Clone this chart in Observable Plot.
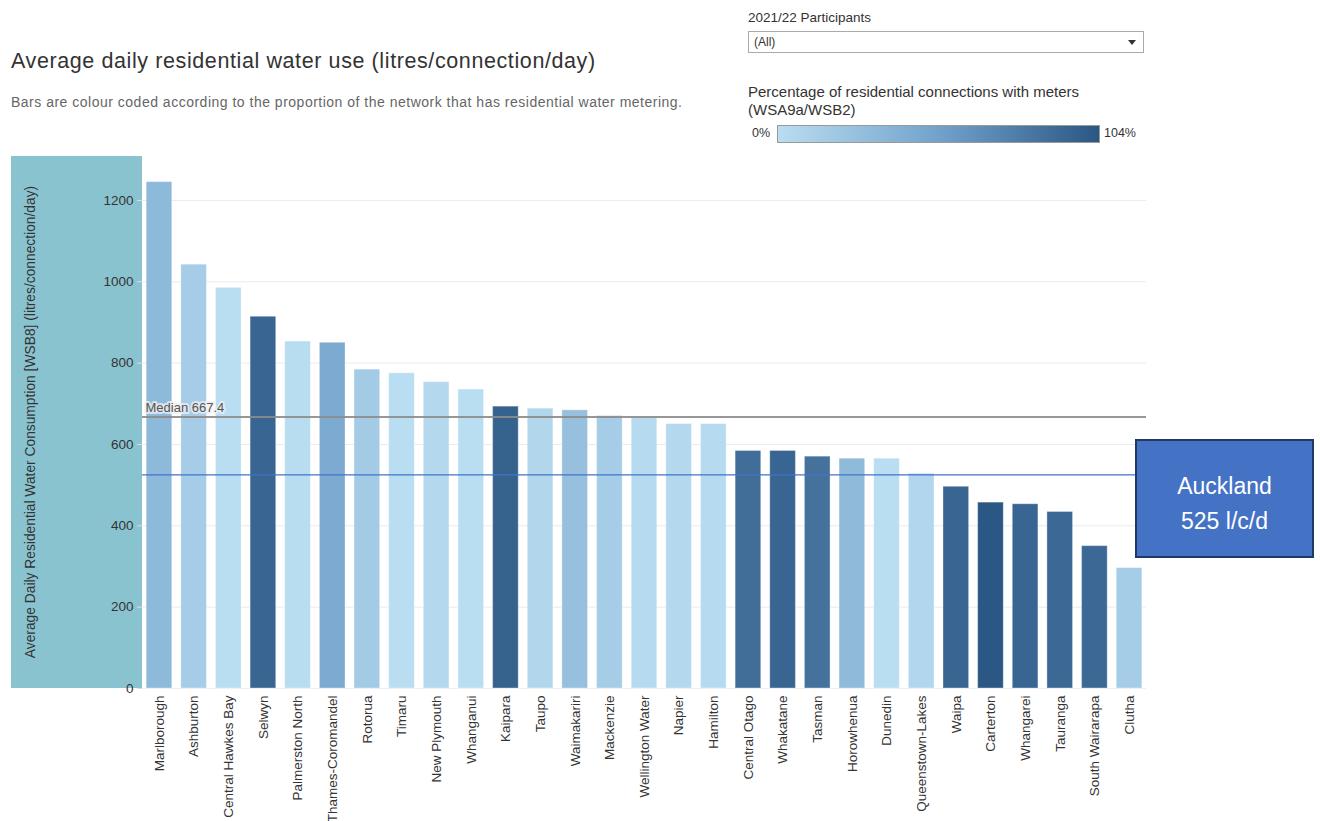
<!DOCTYPE html>
<html>
<head>
<meta charset="utf-8">
<script src="https://cdn.jsdelivr.net/npm/d3@7"></script>
<script src="https://cdn.jsdelivr.net/npm/@observablehq/plot@0.6"></script>
<style>
  html, body { margin: 0; padding: 0; background: #fff; }
  body { width: 1320px; height: 821px; overflow: hidden; position: relative;
         font-family: "Liberation Sans", Arial, sans-serif; color: #333; }
  .abs { position: absolute; }
  #title { left: 11px; top: 49px; font-size: 21.5px; letter-spacing: 0.6px; color: #333; white-space: nowrap; }
  #subtitle { left: 11px; top: 94px; font-size: 14px; letter-spacing: 0.5px; color: #666; white-space: nowrap; }
  #filterLabel { left: 748px; top: 10px; font-size: 13.5px; color: #333; }
  #filterBox { left: 748px; top: 31px; width: 394px; height: 20px; border: 1px solid #aaa;
               font-size: 12px; line-height: 20px; box-sizing: content-box; }
  #filterBox span.v { position: absolute; left: 5px; top: 0; }
  #filterBox span.arrow { position: absolute; right: 7px; top: 8px; width: 0; height: 0;
               border-left: 4px solid transparent; border-right: 4px solid transparent; border-top: 5px solid #333; }
  #legendTitle { left: 748px; top: 83px; font-size: 15px; line-height: 18px; color: #333; }
  #ramp { left: 777px; top: 125px; width: 321px; height: 16px; border: 1px solid #999; }
  #ramp0 { left: 752px; top: 125px; font-size: 12.5px; line-height: 16px; }
  #ramp1 { left: 1104px; top: 125px; font-size: 12.5px; line-height: 16px; }
  #panel { left: 11px; top: 156px; width: 131px; height: 532px; background: #8ac3d0; }
  #ytitle { left: 30px; top: 422px; width: 0; height: 0; }
  #ytitle span { position: absolute; left: 0; top: 0; white-space: nowrap; font-size: 13.8px; color: #333;
                 transform: translate(-50%, -50%) rotate(-90deg); }
  #chart { left: 0; top: 150px; }
  #auckland { left: 1135px; top: 439px; width: 175px; height: 115px; background: #4472c4;
              border: 2px solid #1f3864; color: #fff; font-size: 23px; line-height: 35px;
              text-align: center; box-sizing: content-box; }
  #auckland div { position: relative; top: 28px; }
</style>
</head>
<body>
<div id="title" class="abs">Average daily residential water use (litres/connection/day)</div>
<div id="subtitle" class="abs">Bars are colour coded according to the proportion of the network that has residential water metering.</div>

<div id="filterLabel" class="abs">2021/22 Participants</div>
<div id="filterBox" class="abs"><span class="v">(All)</span><span class="arrow"></span></div>

<div id="legendTitle" class="abs">Percentage of residential connections with meters<br>(WSA9a/WSB2)</div>
<div id="ramp0" class="abs">0%</div>
<div id="ramp" class="abs"></div>
<div id="ramp1" class="abs">104%</div>

<div id="panel" class="abs"></div>
<div id="ytitle" class="abs"><span>Average Daily Residential Water Consumption [WSB8] (litres/connection/day)</span></div>
<div id="chart" class="abs"></div>
<div id="auckland" class="abs"><div>Auckland<br>525 l/c/d</div></div>

<script>
// Councils / water suppliers, ordered by consumption
const councils = [
  "Marlborough", "Ashburton", "Central Hawkes Bay", "Selwyn", "Palmerston North",
  "Thames-Coromandel", "Rotorua", "Timaru", "New Plymouth", "Whanganui",
  "Kaipara", "Taupo", "Waimakariri", "Mackenzie", "Wellington Water",
  "Napier", "Hamilton", "Central Otago", "Whakatane", "Tasman",
  "Horowhenua", "Dunedin", "Queenstown-Lakes", "Waipa", "Carterton",
  "Whangarei", "Tauranga", "South Wairarapa", "Clutha"
];

// Average daily residential water consumption, litres/connection/day (WSB8)
const consumption = [
  1245, 1042, 985, 914, 853,
  850, 784, 775, 753, 735,
  693, 688, 684, 670, 667.4,
  650, 650, 584, 584, 570,
  565, 565, 528, 496, 457,
  453, 434, 350, 296
];

// Percentage of residential connections with meters (WSA9a/WSB2)
const meteredPct = [
  32, 14, 0, 94, 1,
  45, 16, 0, 4, 0,
  96, 5, 26, 14, 2,
  4, 2, 88, 94, 85,
  31, 0, 6, 94, 104,
  94, 92, 92, 14
];

const aucklandConsumption = 525;
const yTicks = [0, 200, 400, 600, 800, 1000, 1200];
const colorDomain = [0, 52, 104];
const colorRange = ["#b9ddf1", "#72a2cb", "#2a5783"];

const rows = councils.map((name, i) => ({name, value: consumption[i], pct: meteredPct[i]}));
const median = d3.median(consumption);

// legend ramp uses the same colour stops as the bars
document.getElementById("ramp").style.background =
  `linear-gradient(to right, ${colorRange.join(", ")})`;

const chart = Plot.plot({
  width: 1320,
  height: 671,
  marginTop: 6,
  marginBottom: 133,
  marginLeft: 142,
  marginRight: 174,
  style: {fontFamily: "'Liberation Sans', Arial, sans-serif", fontSize: "13px", color: "#333", background: "transparent", overflow: "visible"},
  x: {domain: councils, paddingInner: 0.26, paddingOuter: 0.12, round: false, label: null},
  y: {domain: [0, 1308], label: null},
  color: {type: "linear", domain: colorDomain, range: colorRange, interpolate: "rgb"},
  marks: [
    Plot.gridY(yTicks.slice(1), {stroke: "#ebebeb", strokeOpacity: 1}),
    Plot.axisY({ticks: yTicks, tickFormat: d => String(d), tickSize: 5, tickPadding: 4, stroke: "#ddd", fill: "#333", fontSize: 13.5, label: null}),
    Plot.axisX({tickRotate: -90, tickSize: 0, tickPadding: 7, fontSize: 13.5, fill: "#333", label: null}),
    Plot.ruleY([0], {stroke: "#eee"}),
    Plot.barY(rows, {x: "name", y: "value", fill: "pct", stroke: "#ffffff", strokeOpacity: 0.35, strokeWidth: 1}),
    Plot.ruleY([median], {stroke: "#8c8c8c", strokeWidth: 2, strokeOpacity: 0.9}),
    Plot.text([median], {y: d => d, frameAnchor: "left", text: d => `Median ${d3.format(".1f")(d)}`,
      textAnchor: "start", dx: 3, dy: -9, fill: "#555", fontSize: 13, stroke: "#f0f0f0", strokeWidth: 4, strokeOpacity: 0.75}),
    Plot.ruleY([aucklandConsumption], {stroke: "#4472c4", strokeWidth: 1.3})
  ]
});

document.getElementById("chart").appendChild(chart);
</script>
</body>
</html>
